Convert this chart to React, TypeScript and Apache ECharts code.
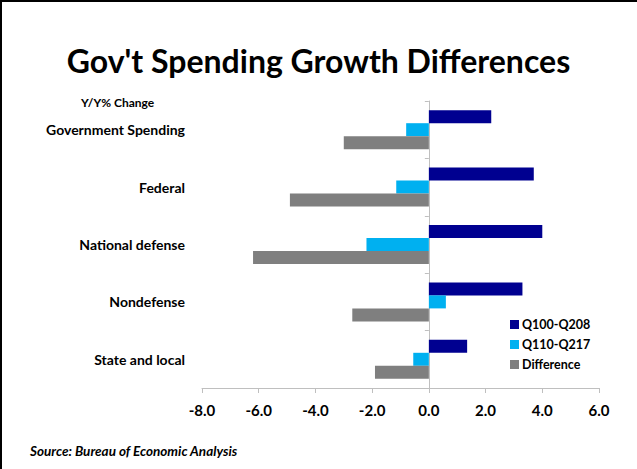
import React, { useEffect, useRef } from "react";
import * as echarts from "echarts";

const categories = ["Government Spending", "Federal", "National defense", "Nondefense", "State and local"];
const seriesNames = ["Q100-Q208", "Q110-Q217", "Difference"];
const q100q208 = [2.2, 3.7, 4.0, 3.3, 1.35];
const q110q217 = [-0.8, -1.15, -2.2, 0.6, -0.55];
const difference = [-3.0, -4.9, -6.2, -2.7, -1.9];
const colors = ["#000090", "#00B0F0", "#7F7F7F"];

const FONT = "Lato, 'Open Sans', sans-serif";
const X_MIN = -8;
const X_MAX = 6;
const GRID_LEFT = 202;
const GRID_RIGHT = 38;
const WIDTH = 637;

export default function App() {
  const ref = useRef<HTMLDivElement>(null);
  useEffect(() => {
    if (!ref.current) return;
    const chart = echarts.init(ref.current, undefined, { renderer: "svg" });
    const values = [q100q208, q110q217, difference];
    const plotW = WIDTH - GRID_LEFT - GRID_RIGHT;
    const zeroOffset = (-X_MIN / (X_MAX - X_MIN)) * plotW;
    chart.setOption({
      animation: false,
      backgroundColor: "#ffffff",
      title: {
        text: "Gov't Spending Growth Differences",
        left: "center",
        top: 39,
        textStyle: { fontFamily: FONT, fontSize: 32, fontWeight: "bold", color: "#000000" },
      },
      legend: {
        data: seriesNames,
        orient: "vertical",
        left: 505,
        top: 313,
        icon: "rect",
        itemWidth: 9,
        itemHeight: 9,
        itemGap: 7,
        textStyle: { fontFamily: FONT, fontSize: 12.5, fontWeight: "bold", color: "#000000", padding: [0, 0, 0, -2] },
      },
      grid: { left: GRID_LEFT, right: GRID_RIGHT, top: 101, bottom: 81, containLabel: false },
      xAxis: {
        type: "value",
        min: X_MIN,
        max: X_MAX,
        interval: 2,
        axisLine: { show: true, lineStyle: { color: "#BFBFBF", width: 1 } },
        axisTick: { show: true, length: 5, lineStyle: { color: "#BFBFBF" } },
        splitLine: { show: false },
        axisLabel: {
          margin: 14,
          formatter: (v: number) => v.toFixed(1),
          fontFamily: FONT,
          fontSize: 15,
          fontWeight: "bold",
          color: "#000000",
        },
      },
      yAxis: [
        {
          type: "category",
          data: categories,
          inverse: true,
          axisLine: { show: false },
          axisTick: { show: false },
          axisLabel: {
            margin: 17,
            fontFamily: FONT,
            fontSize: 14,
            fontWeight: "bold",
            color: "#000000",
          },
        },
        {
          type: "category",
          data: categories,
          inverse: true,
          position: "left",
          offset: -zeroOffset,
          axisLine: { show: true, onZero: false, lineStyle: { color: "#BFBFBF", width: 1 } },
          axisTick: { show: true, length: 4, lineStyle: { color: "#BFBFBF" } },
          axisLabel: { show: false },
        },
      ],
      graphic: [
        {
          type: "line",
          shape: { x1: 1, y1: 0, x2: 1, y2: 469 },
          style: { stroke: "#000000", lineWidth: 2 },
        },
        {
          type: "line",
          shape: { x1: 0, y1: 1, x2: 637, y2: 1 },
          style: { stroke: "#000000", lineWidth: 2 },
        },
        {
          type: "text",
          left: 81,
          top: 96,
          style: { text: "Y/Y% Change", fontFamily: FONT, fontSize: 12, fontWeight: "bold", fill: "#000000" },
        },
        {
          type: "text",
          left: 30,
          top: 444,
          style: {
            text: "Source: Bureau of Economic Analysis",
            fontFamily: FONT,
            fontSize: 13.5,
            fontWeight: "bold",
            fontStyle: "italic",
            fill: "#000000",
          },
        },
      ],
      series: seriesNames.map((name, i) => ({
        name,
        type: "bar",
        data: values[i],
        barWidth: 13,
        barGap: "0%",
        itemStyle: { color: colors[i] },
        yAxisIndex: 0,
      })),
    });
    return () => chart.dispose();
  }, []);
  return <div ref={ref} style={{ position: "absolute", left: 0, top: 0, width: 637, height: 469 }} />;
}
